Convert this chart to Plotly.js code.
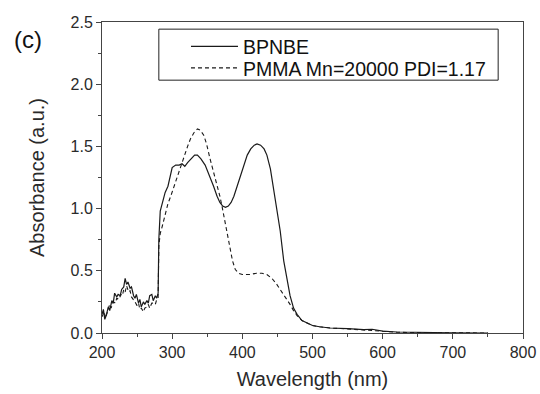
<!DOCTYPE html>
<html>
<head>
<meta charset="utf-8">
<script src="https://cdn.plot.ly/plotly-3.0.1.min.js"></script>
<style>html,body{margin:0;padding:0;background:#fff}#chart{width:540px;height:394px}</style>
</head>
<body>
<div id="chart"></div>
<script>
// BPNBE (solid)
const wlBPNBE = [200,202,204,206,209,211,214,216,218,221,223,226,228,231,233,235,237,240,242,245,247,249,252,254,256,259,261,264,266,268,271,273,276,278,280,
  281,283,286,290,294,297,300,305,310,314,318,322,327,332,336,341,347,353,359,364,368,372,376,380,384,388,393,398,402,407,412,417,421,426,431,435,440,445,450,454,459,464,468,473,478,485,492,500,510,525,550,573,585,600,620,650,700,750];
const absBPNBE = [0.15,0.19,0.11,0.14,0.21,0.18,0.26,0.24,0.32,0.29,0.31,0.30,0.35,0.37,0.44,0.39,0.41,0.36,0.37,0.30,0.28,0.31,0.24,0.27,0.21,0.25,0.23,0.26,0.24,0.30,0.31,0.26,0.30,0.28,0.32,
  0.75,0.98,1.05,1.13,1.18,1.27,1.33,1.35,1.35,1.36,1.34,1.37,1.40,1.43,1.43,1.40,1.35,1.27,1.18,1.10,1.05,1.02,1.01,1.02,1.05,1.10,1.19,1.28,1.36,1.43,1.48,1.51,1.52,1.51,1.48,1.43,1.32,1.15,0.98,0.82,0.58,0.43,0.30,0.20,0.15,0.10,0.08,0.06,0.05,0.04,0.035,0.027,0.03,0.015,0.008,0.004,0.002,0.0];

// PMMA Mn=20000 PDI=1.17 (dashed)
const wlPMMA = [200,203,205,208,211,213,216,219,221,224,227,229,231,233,235,238,240,242,245,247,250,252,254,256,259,261,264,266,268,271,274,276,278,280,
  281,283,286,290,294,298,302,306,310,314,318,322,326,331,336,340,345,349,354,359,364,368,371,374,378,382,386,390,395,400,410,420,428,435,442,448,454,459,464,468,473,478,485,492,500,510,525,550,573,600,620,650,700,750];
const absPMMA = [0.13,0.17,0.12,0.18,0.23,0.20,0.25,0.24,0.28,0.27,0.31,0.30,0.35,0.33,0.38,0.33,0.34,0.29,0.27,0.25,0.22,0.24,0.19,0.20,0.17,0.20,0.21,0.23,0.20,0.24,0.24,0.23,0.27,0.28,
  0.70,0.80,0.86,0.96,1.04,1.10,1.17,1.24,1.30,1.37,1.44,1.50,1.56,1.61,1.64,1.63,1.59,1.52,1.40,1.30,1.20,1.10,1.02,0.93,0.80,0.68,0.58,0.51,0.48,0.47,0.47,0.48,0.48,0.47,0.44,0.40,0.35,0.31,0.26,0.23,0.18,0.14,0.10,0.08,0.06,0.05,0.04,0.033,0.025,0.012,0.006,0.003,0.001,0.0];

const seriesNames = ["BPNBE", "PMMA Mn=20000 PDI=1.17"];
const xTickVals = [200,300,400,500,600,700,800];
const yTickVals = [0,0.5,1.0,1.5,2.0,2.5];

const FONT = "Liberation Sans, Arial, Helvetica, sans-serif";

const traces = [
  {x: wlBPNBE, y: absBPNBE, name: seriesNames[0], mode: "lines", legend: "legend",
   line: {color: "#1a1a1a", width: 1.2}},
  {x: wlPMMA, y: absPMMA, name: seriesNames[1], mode: "lines", legend: "legend2",
   line: {color: "#1a1a1a", width: 1.1, dash: "4px,3px"}}
];

const axisCommon = {
  showgrid: false, zeroline: false, showline: true, linecolor: "#444", linewidth: 1,
  mirror: true, ticks: "outside", ticklen: 5, tickwidth: 1, tickcolor: "#444",
  tickfont: {family: FONT, size: 16, color: "#2a2a2a"}
};

const legendCommon = {
  x: 0.1995, xanchor: "left", yanchor: "top",
  bgcolor: "rgba(0,0,0,0)", borderwidth: 0, itemwidth: 47,
  font: {family: FONT, size: 19.5, color: "#111"}
};

const layout = {
  width: 540, height: 394,
  margin: {l: 102, r: 17, t: 22, b: 61},
  paper_bgcolor: "#fff", plot_bgcolor: "#fff",
  showlegend: true,
  font: {family: FONT, color: "#222"},
  xaxis: Object.assign({}, axisCommon, {
    range: [200, 800], tickvals: xTickVals,
    minor: {dtick: 50, ticks: "outside", ticklen: 3, tickcolor: "#444"},
    title: {text: "Wavelength (nm)", font: {family: FONT, size: 20, color: "#2a2a2a"}, standoff: 11}
  }),
  yaxis: Object.assign({}, axisCommon, {
    range: [0, 2.5], tickvals: yTickVals, tickformat: ".1f",
    minor: {dtick: 0.25, ticks: "outside", ticklen: 3, tickcolor: "#444"},
    title: {text: "Absorbance (a.u.)", font: {family: FONT, size: 20, color: "#2a2a2a"}, standoff: 20}
  }),
  legend: Object.assign({}, legendCommon, {y: 0.983}),
  legend2: Object.assign({}, legendCommon, {y: 0.914}),
  shapes: [
    {type: "rect", xref: "paper", yref: "paper", x0: 0.135, x1: 0.941, y0: 0.813, y1: 0.977,
     line: {color: "#222", width: 1}, fillcolor: "rgba(0,0,0,0)"}
  ],
  annotations: [
    {text: "(c)", xref: "paper", yref: "paper", x: -0.176, y: 0.945, showarrow: false,
     font: {family: FONT, size: 24, color: "#111"}, xanchor: "center", yanchor: "middle"}
  ]
};

Plotly.newPlot("chart", traces, layout, {staticPlot: true, displayModeBar: false});
</script>
</body>
</html>
